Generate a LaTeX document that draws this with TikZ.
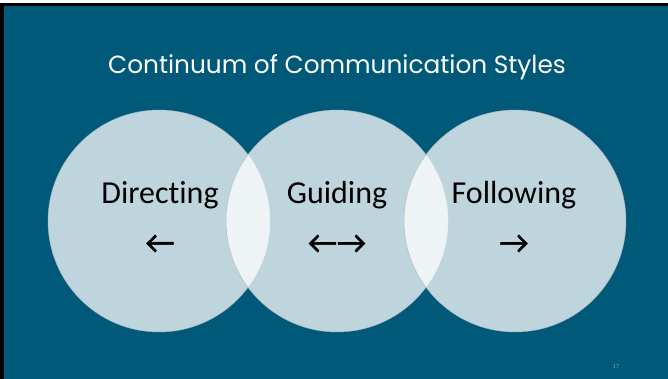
\documentclass[tikz,border=0pt]{standalone}
\usepackage{fontspec}
\newfontfamily\titlefont{Poppins}
\newfontfamily\labelfont[Ligatures=NoCommon]{Carlito}
\newfontfamily\arrowfont[FakeBold=1.5]{Carlito}
\definecolor{slidebg}{HTML}{01597A}
\definecolor{pagenum}{HTML}{7A9FB2}
\definecolor{rimgray}{HTML}{A8B4B8}
\begin{document}
\begin{tikzpicture}[x=1pt,y=-1pt,
  venn/.style={circle,minimum size=222pt,inner sep=0pt,fill=white,fill opacity=0.75,draw=rimgray,draw opacity=0.8,line width=0.5pt},
  lbl/.style={font=\labelfont\fontsize{32}{36}\selectfont,text=black,inner sep=0pt,anchor=base},
  arr/.style={font=\arrowfont\fontsize{32}{36}\selectfont,text=black,inner sep=0pt}]
\useasboundingbox (0,0) rectangle (668,379);
\fill[white] (0,0) rectangle (668,379);
\fill[black] (0,3) rectangle (668,379);
\fill[slidebg] (4,6) rectangle (668,379);
\node[font=\titlefont\fontsize{24.8}{28}\selectfont,text=white,anchor=base,inner sep=0pt] (title) at (337,74) {Continuum of Communication Styles};
\node[venn] (c1) at (159,221) {};
\node[venn] (c2) at (337,221) {};
\node[venn] (c3) at (515,221) {};
\node[lbl] (l1) at (160,204) {Directing};
\node[lbl] (l2) at (337,204) {Guiding};
\node[lbl] (l3) at (514,204) {Following};
\node[arr] (a1) at (160,244) {←};
\node[arr] (a2) at (337,244) {←→};
\node[arr] (a3) at (514,244) {→};
\node[font=\labelfont\fontsize{6}{7}\selectfont,text=pagenum,inner sep=0pt] (pg) at (616,367) {17};
\end{tikzpicture}
\end{document}
